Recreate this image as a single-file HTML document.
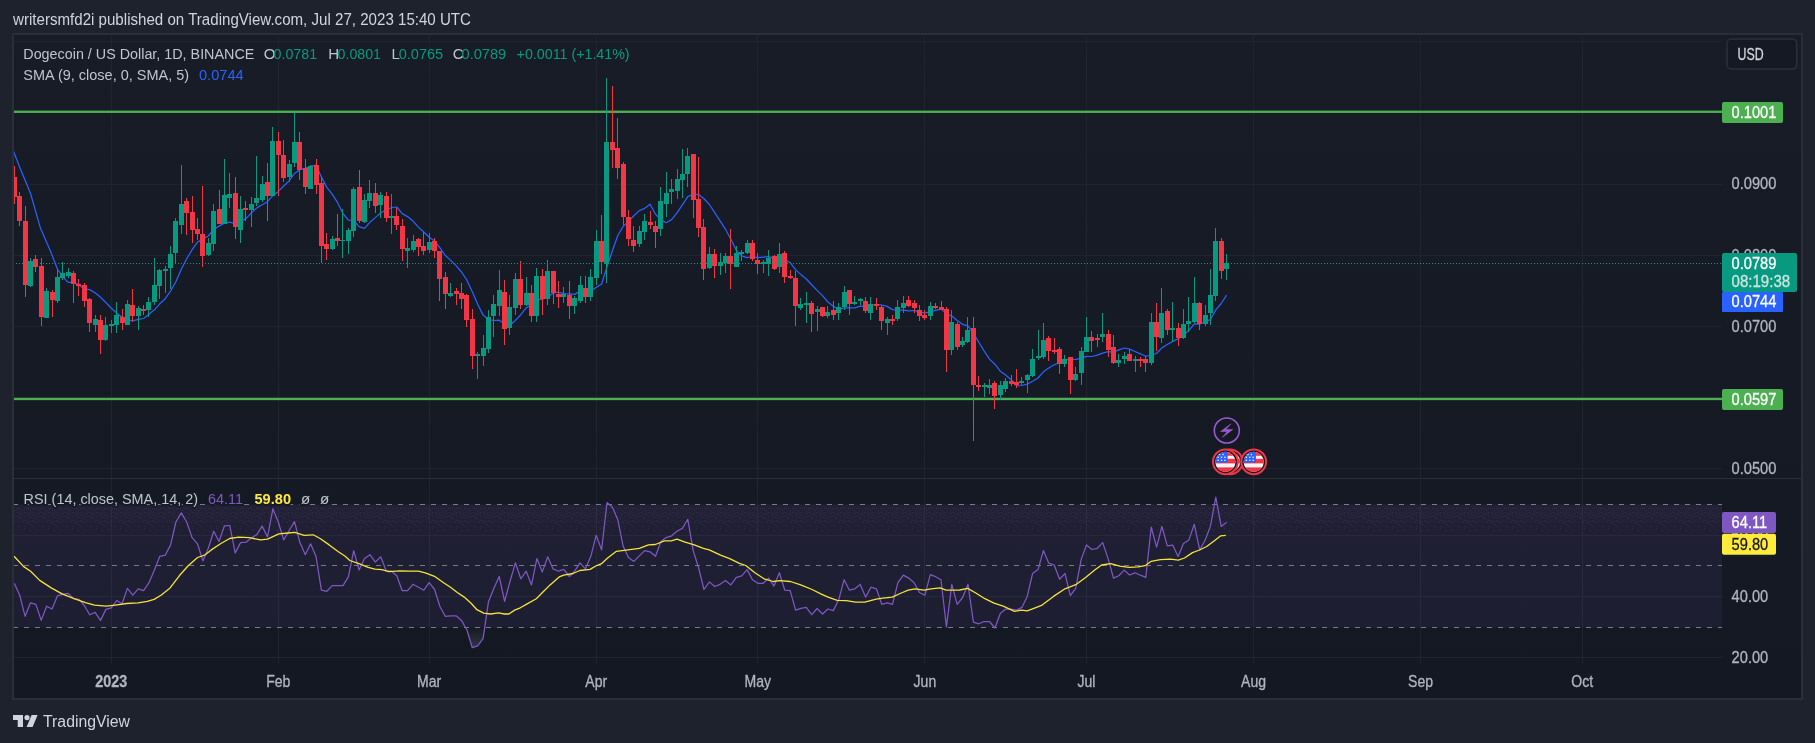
<!DOCTYPE html>
<html><head><meta charset="utf-8"><title>DOGEUSD chart</title>
<style>
html,body{margin:0;padding:0;background:#1e222d;}
body{width:1815px;height:743px;overflow:hidden;position:relative;font-family:"Liberation Sans",sans-serif;}
svg{position:absolute;left:0;top:0;will-change:transform;}
text{font-family:"Liberation Sans",sans-serif;}
</style></head><body>
<svg width="1815" height="743" viewBox="0 0 1815 743">
<defs>
<linearGradient id="bg" x1="0" y1="0" x2="0" y2="1"><stop offset="0" stop-color="#181c27"/><stop offset="1" stop-color="#141823"/></linearGradient>
<linearGradient id="band" x1="0" y1="0" x2="0" y2="1"><stop offset="0" stop-color="#7e57c2" stop-opacity="0.125"/><stop offset="0.25" stop-color="#7e57c2" stop-opacity="0.1"/><stop offset="1" stop-color="#7e57c2" stop-opacity="0.092"/></linearGradient>
<clipPath id="flagclip"><circle cx="0" cy="0" r="10.1"/></clipPath>
<linearGradient id="os" gradientUnits="userSpaceOnUse" x1="0" y1="627" x2="0" y2="652"><stop offset="0" stop-color="#8a8d98" stop-opacity="0"/><stop offset="1" stop-color="#8a8d98" stop-opacity="0.3"/></linearGradient>
<linearGradient id="ob" gradientUnits="userSpaceOnUse" x1="0" y1="505" x2="0" y2="485"><stop offset="0" stop-color="#8a8d98" stop-opacity="0"/><stop offset="1" stop-color="#8a8d98" stop-opacity="0.3"/></linearGradient>
<clipPath id="osclip"><rect x="14" y="628" width="1708" height="36"/></clipPath>
<clipPath id="obclip"><rect x="14" y="479" width="1708" height="25.5"/></clipPath>
<pattern id="dith" patternUnits="userSpaceOnUse" x="4" y="500" width="24" height="40"><g fill="#8fa39a" fill-opacity="0.13"><rect x="4" y="8" width="1" height="1"/><rect x="6" y="8" width="1" height="1"/><rect x="8" y="8" width="1" height="1"/><rect x="12" y="8" width="1" height="1"/><rect x="14" y="8" width="1" height="1"/><rect x="16" y="8" width="1" height="1"/><rect x="20" y="8" width="1" height="1"/><rect x="22" y="8" width="1" height="1"/><rect x="0" y="8" width="1" height="1"/><rect x="2" y="10" width="1" height="1"/><rect x="10" y="10" width="1" height="1"/><rect x="18" y="10" width="1" height="1"/><rect x="5" y="12" width="1" height="1"/><rect x="13" y="12" width="1" height="1"/><rect x="20" y="12" width="1" height="1"/><rect x="23" y="12" width="1" height="1"/><rect x="2" y="13" width="1" height="1"/><rect x="10" y="13" width="1" height="1"/><rect x="17" y="13" width="1" height="1"/><rect x="0" y="14" width="1" height="1"/><rect x="7" y="14" width="1" height="1"/><rect x="16" y="14" width="1" height="1"/><rect x="4" y="15" width="1" height="1"/><rect x="3" y="16" width="1" height="1"/><rect x="10" y="16" width="1" height="1"/><rect x="13" y="16" width="1" height="1"/><rect x="20" y="16" width="1" height="1"/><rect x="1" y="17" width="1" height="1"/><rect x="7" y="17" width="1" height="1"/><rect x="15" y="17" width="1" height="1"/><rect x="16" y="18" width="1" height="1"/><rect x="4" y="20" width="1" height="1"/><rect x="21" y="20" width="1" height="1"/><rect x="2" y="21" width="1" height="1"/><rect x="6" y="21" width="1" height="1"/><rect x="10" y="21" width="1" height="1"/><rect x="14" y="21" width="1" height="1"/><rect x="18" y="21" width="1" height="1"/><rect x="23" y="21" width="1" height="1"/><rect x="0" y="22" width="1" height="1"/><rect x="7" y="22" width="1" height="1"/><rect x="19" y="22" width="1" height="1"/><rect x="2" y="24" width="1" height="1"/><rect x="5" y="26" width="1" height="1"/><rect x="14" y="26" width="1" height="1"/><rect x="20" y="26" width="1" height="1"/><rect x="20" y="28" width="1" height="1"/><rect x="8" y="29" width="1" height="1"/><rect x="9" y="30" width="1" height="1"/><rect x="1" y="30" width="1" height="1"/></g></pattern>
<clipPath id="plot"><rect x="14" y="35" width="1708" height="629"/></clipPath>
</defs>

<rect x="13" y="34" width="1789" height="665" fill="url(#bg)" stroke="#2a2e39" stroke-width="2"/>
<line x1="111.5" y1="35" x2="111.5" y2="663.5" stroke="#20242f" stroke-width="1"/>
<line x1="278.5" y1="35" x2="278.5" y2="663.5" stroke="#20242f" stroke-width="1"/>
<line x1="429.5" y1="35" x2="429.5" y2="663.5" stroke="#20242f" stroke-width="1"/>
<line x1="596.5" y1="35" x2="596.5" y2="663.5" stroke="#20242f" stroke-width="1"/>
<line x1="757.5" y1="35" x2="757.5" y2="663.5" stroke="#20242f" stroke-width="1"/>
<line x1="924.5" y1="35" x2="924.5" y2="663.5" stroke="#20242f" stroke-width="1"/>
<line x1="1086.5" y1="35" x2="1086.5" y2="663.5" stroke="#20242f" stroke-width="1"/>
<line x1="1253.5" y1="35" x2="1253.5" y2="663.5" stroke="#20242f" stroke-width="1"/>
<line x1="1420.5" y1="35" x2="1420.5" y2="663.5" stroke="#20242f" stroke-width="1"/>
<line x1="1582.5" y1="35" x2="1582.5" y2="663.5" stroke="#20242f" stroke-width="1"/>
<line x1="14" y1="41.5" x2="1722" y2="41.5" stroke="#20242f" stroke-width="1"/>
<line x1="14" y1="112.5" x2="1722" y2="112.5" stroke="#20242f" stroke-width="1"/>
<line x1="14" y1="184.5" x2="1722" y2="184.5" stroke="#20242f" stroke-width="1"/>
<line x1="14" y1="255.5" x2="1722" y2="255.5" stroke="#20242f" stroke-width="1"/>
<line x1="14" y1="326.5" x2="1722" y2="326.5" stroke="#20242f" stroke-width="1"/>
<line x1="14" y1="397.5" x2="1722" y2="397.5" stroke="#20242f" stroke-width="1"/>
<line x1="14" y1="468.5" x2="1722" y2="468.5" stroke="#20242f" stroke-width="1"/>
<line x1="14" y1="535.5" x2="1722" y2="535.5" stroke="#20242f" stroke-width="1"/>
<line x1="14" y1="596.5" x2="1722" y2="596.5" stroke="#20242f" stroke-width="1"/>
<line x1="14" y1="657.5" x2="1722" y2="657.5" stroke="#20242f" stroke-width="1"/>
<line x1="14" y1="478.5" x2="1801" y2="478.5" stroke="#2a2e39" stroke-width="1"/>
<rect x="14" y="504.5" width="1708" height="123" fill="url(#band)"/>
<rect x="14" y="505" width="1708" height="30" fill="url(#dith)"/>
<line x1="14" y1="504.5" x2="1722" y2="504.5" stroke="#787b86" stroke-width="1" stroke-dasharray="5 6" stroke-dashoffset="1"/>
<line x1="14" y1="565.5" x2="1722" y2="565.5" stroke="#787b86" stroke-width="1" stroke-dasharray="5 6" stroke-dashoffset="1"/>
<line x1="14" y1="627.5" x2="1722" y2="627.5" stroke="#787b86" stroke-width="1" stroke-dasharray="5 6" stroke-dashoffset="1"/>
<rect x="14" y="110.6" width="1708" height="2.35" fill="#4caf50"/>
<rect x="14" y="397.8" width="1708" height="2.35" fill="#4caf50"/>
<g clip-path="url(#plot)">
<path d="M13.0,150.0 L20.1,168.2 L30.2,192.4 L40.3,227.7 L50.4,250.9 L57.4,269.0 L62.8,276.7 L68.2,282.4 L73.6,282.3 L79.0,285.1 L84.3,288.9 L89.7,289.6 L95.1,292.7 L100.5,297.2 L105.9,302.5 L111.3,308.2 L116.7,313.0 L122.1,317.3 L127.4,319.3 L132.8,321.0 L138.2,319.4 L143.6,318.5 L149.0,314.3 L154.4,309.8 L159.8,303.8 L165.2,298.7 L170.6,291.0 L175.9,281.7 L181.3,269.3 L186.7,258.7 L192.1,249.7 L197.5,242.2 L202.9,238.9 L208.3,236.0 L213.7,229.5 L219.0,226.1 L224.4,223.3 L229.8,222.1 L235.2,223.7 L240.6,221.4 L246.0,218.6 L251.4,212.9 L256.8,207.9 L262.1,204.8 L267.5,201.7 L272.9,195.7 L278.3,191.4 L283.7,186.0 L289.1,181.0 L294.5,173.4 L299.9,169.7 L305.3,168.4 L310.6,166.4 L316.0,165.2 L321.4,176.9 L326.8,187.4 L332.2,194.1 L337.6,202.7 L343.0,213.5 L348.4,220.2 L353.7,220.4 L359.1,226.6 L364.5,228.3 L369.9,222.3 L375.3,217.6 L380.7,212.7 L386.1,210.2 L391.5,207.5 L396.8,207.0 L402.2,213.6 L407.6,216.6 L413.0,221.1 L418.4,227.1 L423.8,232.0 L429.2,237.2 L434.6,240.9 L440.0,247.9 L445.3,255.5 L450.7,260.4 L456.1,265.6 L461.5,272.0 L466.9,280.2 L472.3,291.8 L477.7,304.3 L483.1,315.1 L488.4,319.4 L493.8,320.5 L499.2,320.2 L504.6,324.0 L510.0,325.0 L515.4,320.4 L520.8,314.7 L526.2,307.9 L531.5,304.4 L536.9,299.8 L542.3,299.2 L547.7,297.1 L553.1,293.2 L558.5,292.0 L563.9,293.7 L569.3,293.8 L574.7,294.4 L580.0,291.0 L585.4,293.3 L590.8,290.9 L596.2,287.5 L601.6,284.0 L607.0,266.8 L612.4,250.8 L617.8,235.5 L623.1,226.5 L628.5,221.4 L633.9,215.7 L639.3,210.6 L644.7,208.3 L650.1,204.2 L655.5,214.2 L660.9,219.9 L666.2,222.7 L671.6,219.6 L677.0,212.9 L682.4,204.9 L687.8,196.6 L693.2,194.2 L698.6,194.6 L704.0,198.7 L709.4,204.5 L714.7,212.7 L720.1,220.8 L725.5,229.3 L730.9,239.3 L736.3,250.1 L741.7,255.9 L747.1,257.6 L752.5,256.5 L757.8,257.6 L763.2,257.2 L768.6,256.7 L774.0,258.2 L779.4,257.1 L784.8,259.7 L790.2,262.6 L795.6,269.6 L800.9,274.6 L806.3,279.0 L811.7,284.7 L817.1,290.4 L822.5,295.6 L827.9,302.0 L833.3,306.3 L838.7,309.5 L844.1,307.9 L849.4,307.9 L854.8,307.9 L860.2,306.2 L865.6,306.4 L871.0,305.1 L876.4,304.4 L881.8,305.0 L887.2,306.4 L892.5,309.6 L897.9,309.9 L903.3,310.1 L908.7,310.9 L914.1,310.5 L919.5,311.9 L924.9,313.2 L930.3,311.6 L935.6,310.3 L941.0,309.1 L946.4,313.9 L951.8,316.0 L957.2,320.6 L962.6,324.3 L968.0,325.8 L973.4,333.2 L978.8,342.2 L984.1,350.8 L989.5,359.1 L994.9,364.2 L1000.3,371.2 L1005.7,375.0 L1011.1,379.7 L1016.5,385.9 L1021.9,385.5 L1027.2,384.1 L1032.6,381.3 L1038.0,378.0 L1043.4,371.8 L1048.8,368.0 L1054.2,364.8 L1059.6,362.5 L1065.0,359.6 L1070.3,359.5 L1075.7,359.3 L1081.1,358.4 L1086.5,356.3 L1091.9,356.5 L1097.3,355.2 L1102.7,353.2 L1108.1,351.7 L1113.5,352.1 L1118.8,349.9 L1124.2,348.0 L1129.6,349.1 L1135.0,351.5 L1140.4,353.8 L1145.8,356.3 L1151.2,355.0 L1156.6,353.5 L1161.9,347.9 L1167.3,344.5 L1172.7,341.4 L1178.1,338.9 L1183.5,335.0 L1188.9,330.5 L1194.3,323.8 L1199.7,324.1 L1205.0,321.7 L1210.4,319.7 L1215.8,309.9 L1221.2,303.5 L1226.6,295.2" fill="none" stroke="#2962ff" stroke-width="1.25" stroke-linejoin="round"/>
<rect x="14" y="166" width="1" height="38" fill="#f23645"/><rect x="12" y="177" width="5" height="20" fill="#f23645"/>
<rect x="19" y="192" width="1" height="34" fill="#f23645"/><rect x="17" y="196" width="5" height="25" fill="#f23645"/>
<rect x="25" y="206" width="1" height="91" fill="#f23645"/><rect x="23" y="221" width="5" height="64" fill="#f23645"/>
<rect x="30" y="258" width="1" height="29" fill="#089981"/><rect x="28" y="261" width="5" height="25" fill="#089981"/>
<rect x="35" y="255" width="1" height="17" fill="#f23645"/><rect x="33" y="259" width="5" height="8" fill="#f23645"/>
<rect x="41" y="258" width="1" height="68" fill="#f23645"/><rect x="39" y="266" width="5" height="51" fill="#f23645"/>
<rect x="46" y="288" width="1" height="30" fill="#089981"/><rect x="44" y="291" width="5" height="27" fill="#089981"/>
<rect x="52" y="290" width="1" height="27" fill="#f23645"/><rect x="50" y="292" width="5" height="8" fill="#f23645"/>
<rect x="57" y="269" width="1" height="34" fill="#089981"/><rect x="55" y="277" width="5" height="24" fill="#089981"/>
<rect x="62" y="262" width="1" height="18" fill="#089981"/><rect x="60" y="273" width="5" height="5" fill="#089981"/>
<rect x="68" y="268" width="1" height="10" fill="#089981"/><rect x="66" y="272" width="5" height="4" fill="#089981"/>
<rect x="73" y="271" width="1" height="32" fill="#f23645"/><rect x="71" y="273" width="5" height="11" fill="#f23645"/>
<rect x="78" y="279" width="1" height="17" fill="#f23645"/><rect x="76" y="284" width="5" height="2" fill="#f23645"/>
<rect x="84" y="283" width="1" height="24" fill="#f23645"/><rect x="82" y="285" width="5" height="16" fill="#f23645"/>
<rect x="89" y="298" width="1" height="34" fill="#f23645"/><rect x="87" y="299" width="5" height="24" fill="#f23645"/>
<rect x="95" y="315" width="1" height="17" fill="#089981"/><rect x="93" y="319" width="5" height="6" fill="#089981"/>
<rect x="100" y="315" width="1" height="39" fill="#f23645"/><rect x="98" y="320" width="5" height="20" fill="#f23645"/>
<rect x="105" y="317" width="1" height="24" fill="#089981"/><rect x="103" y="325" width="5" height="15" fill="#089981"/>
<rect x="111" y="320" width="1" height="13" fill="#089981"/><rect x="109" y="324" width="5" height="2" fill="#089981"/>
<rect x="116" y="302" width="1" height="31" fill="#089981"/><rect x="114" y="315" width="5" height="10" fill="#089981"/>
<rect x="122" y="309" width="1" height="21" fill="#f23645"/><rect x="120" y="317" width="5" height="6" fill="#f23645"/>
<rect x="127" y="300" width="1" height="25" fill="#089981"/><rect x="125" y="304" width="5" height="21" fill="#089981"/>
<rect x="132" y="289" width="1" height="33" fill="#f23645"/><rect x="130" y="305" width="5" height="11" fill="#f23645"/>
<rect x="138" y="306" width="1" height="24" fill="#089981"/><rect x="136" y="308" width="5" height="8" fill="#089981"/>
<rect x="143" y="305" width="1" height="10" fill="#f23645"/><rect x="141" y="309" width="5" height="2" fill="#f23645"/>
<rect x="148" y="297" width="1" height="20" fill="#089981"/><rect x="146" y="302" width="5" height="8" fill="#089981"/>
<rect x="154" y="258" width="1" height="47" fill="#089981"/><rect x="152" y="285" width="5" height="17" fill="#089981"/>
<rect x="159" y="269" width="1" height="30" fill="#089981"/><rect x="157" y="270" width="5" height="16" fill="#089981"/>
<rect x="165" y="266" width="1" height="27" fill="#089981"/><rect x="163" y="269" width="5" height="2" fill="#089981"/>
<rect x="170" y="246" width="1" height="43" fill="#089981"/><rect x="168" y="254" width="5" height="14" fill="#089981"/>
<rect x="175" y="218" width="1" height="46" fill="#089981"/><rect x="173" y="221" width="5" height="32" fill="#089981"/>
<rect x="181" y="165" width="1" height="69" fill="#089981"/><rect x="179" y="204" width="5" height="21" fill="#089981"/>
<rect x="186" y="198" width="1" height="37" fill="#f23645"/><rect x="184" y="201" width="5" height="12" fill="#f23645"/>
<rect x="192" y="196" width="1" height="47" fill="#f23645"/><rect x="190" y="212" width="5" height="18" fill="#f23645"/>
<rect x="197" y="218" width="1" height="22" fill="#f23645"/><rect x="195" y="229" width="5" height="5" fill="#f23645"/>
<rect x="202" y="186" width="1" height="81" fill="#f23645"/><rect x="200" y="234" width="5" height="22" fill="#f23645"/>
<rect x="208" y="238" width="1" height="18" fill="#089981"/><rect x="206" y="243" width="5" height="12" fill="#089981"/>
<rect x="213" y="204" width="1" height="47" fill="#089981"/><rect x="211" y="211" width="5" height="33" fill="#089981"/>
<rect x="219" y="190" width="1" height="34" fill="#f23645"/><rect x="217" y="209" width="5" height="15" fill="#f23645"/>
<rect x="224" y="159" width="1" height="65" fill="#089981"/><rect x="222" y="195" width="5" height="29" fill="#089981"/>
<rect x="229" y="173" width="1" height="35" fill="#089981"/><rect x="227" y="194" width="5" height="4" fill="#089981"/>
<rect x="235" y="177" width="1" height="62" fill="#f23645"/><rect x="233" y="193" width="5" height="34" fill="#f23645"/>
<rect x="240" y="196" width="1" height="47" fill="#089981"/><rect x="238" y="209" width="5" height="21" fill="#089981"/>
<rect x="245" y="201" width="1" height="20" fill="#f23645"/><rect x="243" y="208" width="5" height="2" fill="#f23645"/>
<rect x="251" y="197" width="1" height="30" fill="#089981"/><rect x="249" y="204" width="5" height="6" fill="#089981"/>
<rect x="256" y="156" width="1" height="50" fill="#089981"/><rect x="254" y="198" width="5" height="5" fill="#089981"/>
<rect x="262" y="176" width="1" height="26" fill="#089981"/><rect x="260" y="184" width="5" height="16" fill="#089981"/>
<rect x="267" y="163" width="1" height="58" fill="#f23645"/><rect x="265" y="182" width="5" height="14" fill="#f23645"/>
<rect x="272" y="127" width="1" height="69" fill="#089981"/><rect x="270" y="141" width="5" height="55" fill="#089981"/>
<rect x="278" y="132" width="1" height="64" fill="#f23645"/><rect x="276" y="141" width="5" height="14" fill="#f23645"/>
<rect x="283" y="140" width="1" height="42" fill="#f23645"/><rect x="281" y="155" width="5" height="23" fill="#f23645"/>
<rect x="289" y="160" width="1" height="22" fill="#089981"/><rect x="287" y="164" width="5" height="13" fill="#089981"/>
<rect x="294" y="113" width="1" height="54" fill="#089981"/><rect x="292" y="142" width="5" height="21" fill="#089981"/>
<rect x="299" y="132" width="1" height="48" fill="#f23645"/><rect x="297" y="142" width="5" height="28" fill="#f23645"/>
<rect x="305" y="159" width="1" height="35" fill="#f23645"/><rect x="303" y="168" width="5" height="19" fill="#f23645"/>
<rect x="310" y="165" width="1" height="24" fill="#089981"/><rect x="308" y="166" width="5" height="23" fill="#089981"/>
<rect x="316" y="159" width="1" height="35" fill="#f23645"/><rect x="314" y="165" width="5" height="20" fill="#f23645"/>
<rect x="321" y="177" width="1" height="86" fill="#f23645"/><rect x="319" y="183" width="5" height="63" fill="#f23645"/>
<rect x="326" y="233" width="1" height="27" fill="#f23645"/><rect x="324" y="244" width="5" height="5" fill="#f23645"/>
<rect x="332" y="236" width="1" height="14" fill="#089981"/><rect x="330" y="239" width="5" height="10" fill="#089981"/>
<rect x="337" y="214" width="1" height="32" fill="#f23645"/><rect x="335" y="238" width="5" height="3" fill="#f23645"/>
<rect x="342" y="209" width="1" height="49" fill="#089981"/><rect x="340" y="240" width="5" height="1" fill="#089981"/>
<rect x="348" y="228" width="1" height="26" fill="#089981"/><rect x="346" y="230" width="5" height="11" fill="#089981"/>
<rect x="353" y="187" width="1" height="50" fill="#089981"/><rect x="351" y="189" width="5" height="42" fill="#089981"/>
<rect x="359" y="170" width="1" height="53" fill="#f23645"/><rect x="357" y="187" width="5" height="34" fill="#f23645"/>
<rect x="364" y="194" width="1" height="29" fill="#089981"/><rect x="362" y="200" width="5" height="22" fill="#089981"/>
<rect x="369" y="180" width="1" height="28" fill="#089981"/><rect x="367" y="193" width="5" height="8" fill="#089981"/>
<rect x="375" y="183" width="1" height="30" fill="#f23645"/><rect x="373" y="193" width="5" height="13" fill="#f23645"/>
<rect x="380" y="192" width="1" height="26" fill="#089981"/><rect x="378" y="195" width="5" height="10" fill="#089981"/>
<rect x="386" y="192" width="1" height="30" fill="#f23645"/><rect x="384" y="196" width="5" height="22" fill="#f23645"/>
<rect x="391" y="194" width="1" height="40" fill="#089981"/><rect x="389" y="216" width="5" height="2" fill="#089981"/>
<rect x="396" y="208" width="1" height="22" fill="#f23645"/><rect x="394" y="216" width="5" height="9" fill="#f23645"/>
<rect x="402" y="219" width="1" height="42" fill="#f23645"/><rect x="400" y="226" width="5" height="23" fill="#f23645"/>
<rect x="407" y="238" width="1" height="30" fill="#089981"/><rect x="405" y="248" width="5" height="3" fill="#089981"/>
<rect x="413" y="235" width="1" height="17" fill="#089981"/><rect x="411" y="241" width="5" height="9" fill="#089981"/>
<rect x="418" y="238" width="1" height="18" fill="#f23645"/><rect x="416" y="239" width="5" height="8" fill="#f23645"/>
<rect x="423" y="232" width="1" height="23" fill="#f23645"/><rect x="421" y="246" width="5" height="5" fill="#f23645"/>
<rect x="429" y="233" width="1" height="20" fill="#089981"/><rect x="427" y="242" width="5" height="8" fill="#089981"/>
<rect x="434" y="238" width="1" height="20" fill="#f23645"/><rect x="432" y="241" width="5" height="10" fill="#f23645"/>
<rect x="439" y="251" width="1" height="50" fill="#f23645"/><rect x="437" y="251" width="5" height="28" fill="#f23645"/>
<rect x="445" y="272" width="1" height="37" fill="#f23645"/><rect x="443" y="277" width="5" height="17" fill="#f23645"/>
<rect x="450" y="283" width="1" height="14" fill="#089981"/><rect x="448" y="293" width="5" height="3" fill="#089981"/>
<rect x="456" y="288" width="1" height="17" fill="#f23645"/><rect x="454" y="291" width="5" height="3" fill="#f23645"/>
<rect x="461" y="283" width="1" height="26" fill="#f23645"/><rect x="459" y="293" width="5" height="6" fill="#f23645"/>
<rect x="466" y="294" width="1" height="33" fill="#f23645"/><rect x="464" y="295" width="5" height="25" fill="#f23645"/>
<rect x="472" y="309" width="1" height="60" fill="#f23645"/><rect x="470" y="319" width="5" height="37" fill="#f23645"/>
<rect x="477" y="352" width="1" height="27" fill="#089981"/><rect x="475" y="354" width="5" height="2" fill="#089981"/>
<rect x="483" y="335" width="1" height="31" fill="#089981"/><rect x="481" y="348" width="5" height="8" fill="#089981"/>
<rect x="488" y="310" width="1" height="43" fill="#089981"/><rect x="486" y="317" width="5" height="32" fill="#089981"/>
<rect x="493" y="295" width="1" height="42" fill="#089981"/><rect x="491" y="304" width="5" height="12" fill="#089981"/>
<rect x="499" y="270" width="1" height="46" fill="#089981"/><rect x="497" y="290" width="5" height="16" fill="#089981"/>
<rect x="504" y="280" width="1" height="65" fill="#f23645"/><rect x="502" y="292" width="5" height="37" fill="#f23645"/>
<rect x="509" y="295" width="1" height="40" fill="#089981"/><rect x="507" y="307" width="5" height="21" fill="#089981"/>
<rect x="515" y="273" width="1" height="42" fill="#089981"/><rect x="513" y="279" width="5" height="29" fill="#089981"/>
<rect x="520" y="261" width="1" height="48" fill="#f23645"/><rect x="518" y="279" width="5" height="26" fill="#f23645"/>
<rect x="526" y="277" width="1" height="29" fill="#089981"/><rect x="524" y="293" width="5" height="12" fill="#089981"/>
<rect x="531" y="285" width="1" height="37" fill="#f23645"/><rect x="529" y="293" width="5" height="23" fill="#f23645"/>
<rect x="536" y="268" width="1" height="54" fill="#089981"/><rect x="534" y="276" width="5" height="40" fill="#089981"/>
<rect x="542" y="269" width="1" height="46" fill="#f23645"/><rect x="540" y="276" width="5" height="23" fill="#f23645"/>
<rect x="547" y="260" width="1" height="45" fill="#089981"/><rect x="545" y="271" width="5" height="28" fill="#089981"/>
<rect x="553" y="271" width="1" height="33" fill="#f23645"/><rect x="551" y="271" width="5" height="22" fill="#f23645"/>
<rect x="558" y="281" width="1" height="27" fill="#f23645"/><rect x="556" y="294" width="5" height="3" fill="#f23645"/>
<rect x="563" y="287" width="1" height="16" fill="#089981"/><rect x="561" y="294" width="5" height="3" fill="#089981"/>
<rect x="569" y="281" width="1" height="38" fill="#f23645"/><rect x="567" y="295" width="5" height="11" fill="#f23645"/>
<rect x="574" y="296" width="1" height="18" fill="#089981"/><rect x="572" y="298" width="5" height="8" fill="#089981"/>
<rect x="580" y="276" width="1" height="27" fill="#089981"/><rect x="578" y="285" width="5" height="16" fill="#089981"/>
<rect x="585" y="276" width="1" height="27" fill="#f23645"/><rect x="583" y="288" width="5" height="9" fill="#f23645"/>
<rect x="590" y="269" width="1" height="32" fill="#089981"/><rect x="588" y="277" width="5" height="20" fill="#089981"/>
<rect x="596" y="230" width="1" height="55" fill="#089981"/><rect x="594" y="241" width="5" height="37" fill="#089981"/>
<rect x="601" y="215" width="1" height="59" fill="#f23645"/><rect x="599" y="241" width="5" height="21" fill="#f23645"/>
<rect x="606" y="78" width="1" height="205" fill="#089981"/><rect x="604" y="142" width="5" height="122" fill="#089981"/>
<rect x="612" y="86" width="1" height="82" fill="#f23645"/><rect x="610" y="142" width="5" height="8" fill="#f23645"/>
<rect x="617" y="118" width="1" height="61" fill="#f23645"/><rect x="615" y="148" width="5" height="20" fill="#f23645"/>
<rect x="623" y="162" width="1" height="63" fill="#f23645"/><rect x="621" y="164" width="5" height="53" fill="#f23645"/>
<rect x="628" y="210" width="1" height="36" fill="#f23645"/><rect x="626" y="217" width="5" height="22" fill="#f23645"/>
<rect x="633" y="226" width="1" height="26" fill="#f23645"/><rect x="631" y="240" width="5" height="6" fill="#f23645"/>
<rect x="639" y="226" width="1" height="21" fill="#089981"/><rect x="637" y="231" width="5" height="13" fill="#089981"/>
<rect x="644" y="214" width="1" height="26" fill="#089981"/><rect x="642" y="221" width="5" height="11" fill="#089981"/>
<rect x="650" y="211" width="1" height="18" fill="#f23645"/><rect x="648" y="222" width="5" height="3" fill="#f23645"/>
<rect x="655" y="221" width="1" height="27" fill="#f23645"/><rect x="653" y="226" width="5" height="6" fill="#f23645"/>
<rect x="660" y="187" width="1" height="49" fill="#089981"/><rect x="658" y="201" width="5" height="28" fill="#089981"/>
<rect x="666" y="172" width="1" height="45" fill="#089981"/><rect x="664" y="193" width="5" height="11" fill="#089981"/>
<rect x="671" y="179" width="1" height="25" fill="#089981"/><rect x="669" y="189" width="5" height="3" fill="#089981"/>
<rect x="677" y="169" width="1" height="30" fill="#089981"/><rect x="675" y="179" width="5" height="12" fill="#089981"/>
<rect x="682" y="149" width="1" height="49" fill="#089981"/><rect x="680" y="174" width="5" height="6" fill="#089981"/>
<rect x="687" y="148" width="1" height="39" fill="#089981"/><rect x="685" y="156" width="5" height="18" fill="#089981"/>
<rect x="693" y="154" width="1" height="64" fill="#f23645"/><rect x="691" y="154" width="5" height="46" fill="#f23645"/>
<rect x="698" y="157" width="1" height="80" fill="#f23645"/><rect x="696" y="199" width="5" height="29" fill="#f23645"/>
<rect x="703" y="219" width="1" height="61" fill="#f23645"/><rect x="701" y="227" width="5" height="42" fill="#f23645"/>
<rect x="709" y="247" width="1" height="22" fill="#089981"/><rect x="707" y="254" width="5" height="14" fill="#089981"/>
<rect x="714" y="249" width="1" height="29" fill="#f23645"/><rect x="712" y="254" width="5" height="12" fill="#f23645"/>
<rect x="720" y="253" width="1" height="22" fill="#089981"/><rect x="718" y="262" width="5" height="4" fill="#089981"/>
<rect x="725" y="253" width="1" height="20" fill="#089981"/><rect x="723" y="256" width="5" height="7" fill="#089981"/>
<rect x="730" y="229" width="1" height="60" fill="#f23645"/><rect x="728" y="256" width="5" height="8" fill="#f23645"/>
<rect x="736" y="246" width="1" height="21" fill="#089981"/><rect x="734" y="253" width="5" height="14" fill="#089981"/>
<rect x="741" y="250" width="1" height="11" fill="#089981"/><rect x="739" y="252" width="5" height="2" fill="#089981"/>
<rect x="747" y="240" width="1" height="14" fill="#089981"/><rect x="745" y="243" width="5" height="10" fill="#089981"/>
<rect x="752" y="240" width="1" height="21" fill="#f23645"/><rect x="750" y="243" width="5" height="16" fill="#f23645"/>
<rect x="757" y="253" width="1" height="21" fill="#f23645"/><rect x="755" y="260" width="5" height="4" fill="#f23645"/>
<rect x="763" y="260" width="1" height="13" fill="#089981"/><rect x="761" y="262" width="5" height="2" fill="#089981"/>
<rect x="768" y="250" width="1" height="26" fill="#089981"/><rect x="766" y="258" width="5" height="6" fill="#089981"/>
<rect x="774" y="255" width="1" height="15" fill="#f23645"/><rect x="772" y="256" width="5" height="13" fill="#f23645"/>
<rect x="779" y="243" width="1" height="30" fill="#089981"/><rect x="777" y="254" width="5" height="13" fill="#089981"/>
<rect x="784" y="251" width="1" height="32" fill="#f23645"/><rect x="782" y="253" width="5" height="24" fill="#f23645"/>
<rect x="790" y="270" width="1" height="9" fill="#f23645"/><rect x="788" y="276" width="5" height="2" fill="#f23645"/>
<rect x="795" y="271" width="1" height="55" fill="#f23645"/><rect x="793" y="278" width="5" height="28" fill="#f23645"/>
<rect x="800" y="298" width="1" height="12" fill="#089981"/><rect x="798" y="304" width="5" height="4" fill="#089981"/>
<rect x="806" y="292" width="1" height="31" fill="#089981"/><rect x="804" y="303" width="5" height="2" fill="#089981"/>
<rect x="811" y="301" width="1" height="31" fill="#f23645"/><rect x="809" y="303" width="5" height="11" fill="#f23645"/>
<rect x="817" y="306" width="1" height="25" fill="#089981"/><rect x="815" y="309" width="5" height="3" fill="#089981"/>
<rect x="822" y="307" width="1" height="10" fill="#f23645"/><rect x="820" y="307" width="5" height="9" fill="#f23645"/>
<rect x="827" y="306" width="1" height="12" fill="#089981"/><rect x="825" y="312" width="5" height="4" fill="#089981"/>
<rect x="833" y="301" width="1" height="19" fill="#f23645"/><rect x="831" y="310" width="5" height="5" fill="#f23645"/>
<rect x="838" y="303" width="1" height="17" fill="#089981"/><rect x="836" y="307" width="5" height="6" fill="#089981"/>
<rect x="844" y="286" width="1" height="24" fill="#089981"/><rect x="842" y="292" width="5" height="15" fill="#089981"/>
<rect x="849" y="290" width="1" height="25" fill="#f23645"/><rect x="847" y="290" width="5" height="14" fill="#f23645"/>
<rect x="854" y="296" width="1" height="9" fill="#089981"/><rect x="852" y="302" width="5" height="2" fill="#089981"/>
<rect x="860" y="298" width="1" height="7" fill="#089981"/><rect x="858" y="299" width="5" height="2" fill="#089981"/>
<rect x="865" y="297" width="1" height="16" fill="#f23645"/><rect x="863" y="301" width="5" height="10" fill="#f23645"/>
<rect x="870" y="297" width="1" height="23" fill="#089981"/><rect x="868" y="304" width="5" height="9" fill="#089981"/>
<rect x="876" y="298" width="1" height="12" fill="#f23645"/><rect x="874" y="304" width="5" height="2" fill="#f23645"/>
<rect x="881" y="305" width="1" height="25" fill="#f23645"/><rect x="879" y="307" width="5" height="14" fill="#f23645"/>
<rect x="887" y="317" width="1" height="18" fill="#089981"/><rect x="885" y="319" width="5" height="4" fill="#089981"/>
<rect x="892" y="315" width="1" height="10" fill="#f23645"/><rect x="890" y="319" width="5" height="2" fill="#f23645"/>
<rect x="897" y="300" width="1" height="21" fill="#089981"/><rect x="895" y="307" width="5" height="12" fill="#089981"/>
<rect x="903" y="296" width="1" height="17" fill="#089981"/><rect x="901" y="303" width="5" height="5" fill="#089981"/>
<rect x="908" y="296" width="1" height="11" fill="#f23645"/><rect x="906" y="300" width="5" height="6" fill="#f23645"/>
<rect x="914" y="300" width="1" height="13" fill="#f23645"/><rect x="912" y="303" width="5" height="5" fill="#f23645"/>
<rect x="919" y="305" width="1" height="16" fill="#f23645"/><rect x="917" y="310" width="5" height="6" fill="#f23645"/>
<rect x="924" y="310" width="1" height="10" fill="#f23645"/><rect x="922" y="315" width="5" height="3" fill="#f23645"/>
<rect x="930" y="302" width="1" height="18" fill="#089981"/><rect x="928" y="306" width="5" height="10" fill="#089981"/>
<rect x="935" y="303" width="1" height="6" fill="#f23645"/><rect x="933" y="306" width="5" height="2" fill="#f23645"/>
<rect x="941" y="301" width="1" height="9" fill="#f23645"/><rect x="939" y="307" width="5" height="3" fill="#f23645"/>
<rect x="946" y="307" width="1" height="65" fill="#f23645"/><rect x="944" y="309" width="5" height="41" fill="#f23645"/>
<rect x="951" y="310" width="1" height="45" fill="#089981"/><rect x="949" y="322" width="5" height="28" fill="#089981"/>
<rect x="957" y="322" width="1" height="28" fill="#f23645"/><rect x="955" y="324" width="5" height="23" fill="#f23645"/>
<rect x="962" y="337" width="1" height="10" fill="#089981"/><rect x="960" y="341" width="5" height="4" fill="#089981"/>
<rect x="967" y="317" width="1" height="26" fill="#089981"/><rect x="965" y="330" width="5" height="12" fill="#089981"/>
<rect x="973" y="317" width="1" height="124" fill="#f23645"/><rect x="971" y="328" width="5" height="57" fill="#f23645"/>
<rect x="978" y="376" width="1" height="15" fill="#f23645"/><rect x="976" y="385" width="5" height="2" fill="#f23645"/>
<rect x="984" y="383" width="1" height="14" fill="#089981"/><rect x="982" y="385" width="5" height="2" fill="#089981"/>
<rect x="989" y="379" width="1" height="15" fill="#089981"/><rect x="987" y="385" width="5" height="3" fill="#089981"/>
<rect x="994" y="381" width="1" height="28" fill="#f23645"/><rect x="992" y="383" width="5" height="13" fill="#f23645"/>
<rect x="1000" y="381" width="1" height="19" fill="#089981"/><rect x="998" y="385" width="5" height="10" fill="#089981"/>
<rect x="1005" y="378" width="1" height="14" fill="#089981"/><rect x="1003" y="381" width="5" height="8" fill="#089981"/>
<rect x="1011" y="375" width="1" height="11" fill="#f23645"/><rect x="1009" y="381" width="5" height="3" fill="#f23645"/>
<rect x="1016" y="369" width="1" height="19" fill="#f23645"/><rect x="1014" y="382" width="5" height="3" fill="#f23645"/>
<rect x="1021" y="377" width="1" height="8" fill="#089981"/><rect x="1019" y="381" width="5" height="2" fill="#089981"/>
<rect x="1027" y="374" width="1" height="19" fill="#089981"/><rect x="1025" y="375" width="5" height="5" fill="#089981"/>
<rect x="1032" y="349" width="1" height="28" fill="#089981"/><rect x="1030" y="359" width="5" height="17" fill="#089981"/>
<rect x="1038" y="330" width="1" height="30" fill="#089981"/><rect x="1036" y="356" width="5" height="2" fill="#089981"/>
<rect x="1043" y="323" width="1" height="36" fill="#089981"/><rect x="1041" y="340" width="5" height="17" fill="#089981"/>
<rect x="1048" y="336" width="1" height="25" fill="#f23645"/><rect x="1046" y="338" width="5" height="13" fill="#f23645"/>
<rect x="1054" y="338" width="1" height="16" fill="#f23645"/><rect x="1052" y="350" width="5" height="2" fill="#f23645"/>
<rect x="1059" y="347" width="1" height="27" fill="#f23645"/><rect x="1057" y="349" width="5" height="15" fill="#f23645"/>
<rect x="1064" y="355" width="1" height="12" fill="#089981"/><rect x="1062" y="359" width="5" height="5" fill="#089981"/>
<rect x="1070" y="357" width="1" height="37" fill="#f23645"/><rect x="1068" y="357" width="5" height="23" fill="#f23645"/>
<rect x="1075" y="367" width="1" height="14" fill="#089981"/><rect x="1073" y="374" width="5" height="6" fill="#089981"/>
<rect x="1081" y="347" width="1" height="38" fill="#089981"/><rect x="1079" y="351" width="5" height="22" fill="#089981"/>
<rect x="1086" y="317" width="1" height="35" fill="#089981"/><rect x="1084" y="337" width="5" height="15" fill="#089981"/>
<rect x="1091" y="331" width="1" height="21" fill="#f23645"/><rect x="1089" y="337" width="5" height="4" fill="#f23645"/>
<rect x="1097" y="334" width="1" height="13" fill="#f23645"/><rect x="1095" y="338" width="5" height="2" fill="#f23645"/>
<rect x="1102" y="313" width="1" height="29" fill="#089981"/><rect x="1100" y="334" width="5" height="3" fill="#089981"/>
<rect x="1108" y="330" width="1" height="27" fill="#f23645"/><rect x="1106" y="334" width="5" height="16" fill="#f23645"/>
<rect x="1113" y="335" width="1" height="29" fill="#f23645"/><rect x="1111" y="347" width="5" height="16" fill="#f23645"/>
<rect x="1118" y="354" width="1" height="13" fill="#089981"/><rect x="1116" y="360" width="5" height="3" fill="#089981"/>
<rect x="1124" y="352" width="1" height="12" fill="#089981"/><rect x="1122" y="356" width="5" height="3" fill="#089981"/>
<rect x="1129" y="349" width="1" height="12" fill="#f23645"/><rect x="1127" y="354" width="5" height="7" fill="#f23645"/>
<rect x="1135" y="356" width="1" height="16" fill="#089981"/><rect x="1133" y="359" width="5" height="2" fill="#089981"/>
<rect x="1140" y="357" width="1" height="10" fill="#f23645"/><rect x="1138" y="359" width="5" height="2" fill="#f23645"/>
<rect x="1145" y="356" width="1" height="16" fill="#f23645"/><rect x="1143" y="359" width="5" height="4" fill="#f23645"/>
<rect x="1151" y="313" width="1" height="52" fill="#089981"/><rect x="1149" y="322" width="5" height="41" fill="#089981"/>
<rect x="1156" y="303" width="1" height="48" fill="#f23645"/><rect x="1154" y="322" width="5" height="15" fill="#f23645"/>
<rect x="1161" y="288" width="1" height="55" fill="#089981"/><rect x="1159" y="313" width="5" height="25" fill="#089981"/>
<rect x="1167" y="309" width="1" height="26" fill="#f23645"/><rect x="1165" y="311" width="5" height="19" fill="#f23645"/>
<rect x="1172" y="302" width="1" height="40" fill="#089981"/><rect x="1170" y="328" width="5" height="2" fill="#089981"/>
<rect x="1178" y="323" width="1" height="23" fill="#f23645"/><rect x="1176" y="328" width="5" height="10" fill="#f23645"/>
<rect x="1183" y="309" width="1" height="30" fill="#089981"/><rect x="1181" y="324" width="5" height="14" fill="#089981"/>
<rect x="1188" y="297" width="1" height="35" fill="#089981"/><rect x="1186" y="321" width="5" height="3" fill="#089981"/>
<rect x="1194" y="277" width="1" height="46" fill="#089981"/><rect x="1192" y="303" width="5" height="19" fill="#089981"/>
<rect x="1199" y="302" width="1" height="28" fill="#f23645"/><rect x="1197" y="303" width="5" height="21" fill="#f23645"/>
<rect x="1205" y="305" width="1" height="21" fill="#089981"/><rect x="1203" y="315" width="5" height="9" fill="#089981"/>
<rect x="1210" y="269" width="1" height="56" fill="#089981"/><rect x="1208" y="295" width="5" height="18" fill="#089981"/>
<rect x="1215" y="228" width="1" height="73" fill="#089981"/><rect x="1213" y="241" width="5" height="55" fill="#089981"/>
<rect x="1221" y="238" width="1" height="41" fill="#f23645"/><rect x="1219" y="241" width="5" height="30" fill="#f23645"/>
<rect x="1226" y="254" width="1" height="26" fill="#089981"/><rect x="1224" y="263" width="5" height="6" fill="#089981"/>
<line x1="14" y1="263.5" x2="1722" y2="263.5" stroke="#089981" stroke-width="1" stroke-dasharray="1 2" stroke-dashoffset="1"/>
<path d="M14.3,583.3 L19.7,595.2 L25.1,616.3 L30.5,602.8 L35.9,604.4 L41.2,620.4 L46.6,606.2 L52.0,609.0 L57.4,595.9 L62.8,594.1 L68.2,593.4 L73.6,598.7 L79.0,599.4 L84.3,605.5 L89.7,614.7 L95.1,612.4 L100.5,620.4 L105.9,609.4 L111.3,607.8 L116.7,600.5 L122.1,603.7 L127.4,588.4 L132.8,595.2 L138.2,588.8 L143.6,590.7 L149.0,582.7 L154.4,570.1 L159.8,556.3 L165.2,555.2 L170.6,544.9 L175.9,522.0 L181.3,512.9 L186.7,522.0 L192.1,537.6 L197.5,543.8 L202.9,560.9 L208.3,548.3 L213.7,531.2 L219.0,541.5 L224.4,525.9 L229.8,525.5 L235.2,552.9 L240.6,542.6 L246.0,542.2 L251.4,538.0 L256.8,534.6 L262.1,526.1 L267.5,536.9 L272.9,508.8 L278.3,522.0 L283.7,539.9 L289.1,530.7 L294.5,521.6 L299.9,542.6 L305.3,554.7 L310.6,543.8 L316.0,556.3 L321.4,590.2 L326.8,591.3 L332.2,585.6 L337.6,585.6 L343.0,585.6 L348.4,576.9 L353.7,550.6 L359.1,570.1 L364.5,558.6 L369.9,554.7 L375.3,562.1 L380.7,556.8 L386.1,570.5 L391.5,571.2 L396.8,575.8 L402.2,590.7 L407.6,590.7 L413.0,584.3 L418.4,587.2 L423.8,590.2 L429.2,582.7 L434.6,589.5 L440.0,606.7 L445.3,616.3 L450.7,615.8 L456.1,615.8 L461.5,620.4 L466.9,630.0 L472.3,647.7 L477.7,645.8 L483.1,638.7 L488.4,602.1 L493.8,588.4 L499.2,576.5 L504.6,601.4 L510.0,581.5 L515.4,562.8 L520.8,578.8 L526.2,571.2 L531.5,584.9 L536.9,558.6 L542.3,571.9 L547.7,556.8 L553.1,568.9 L558.5,571.2 L563.9,569.4 L569.3,576.5 L574.7,571.2 L580.0,562.8 L585.4,568.9 L590.8,556.3 L596.2,535.3 L601.6,549.9 L607.0,502.6 L612.4,507.2 L617.8,519.7 L623.1,546.1 L628.5,557.5 L633.9,561.4 L639.3,555.9 L644.7,550.6 L650.1,551.8 L655.5,556.3 L660.9,541.5 L666.2,537.6 L671.6,535.8 L677.0,531.2 L682.4,528.4 L687.8,519.3 L693.2,550.6 L698.6,567.8 L704.0,589.5 L709.4,581.9 L714.7,586.5 L720.1,584.3 L725.5,580.4 L730.9,584.9 L736.3,577.4 L741.7,575.8 L747.1,569.6 L752.5,579.7 L757.8,583.3 L763.2,583.3 L768.6,578.1 L774.0,586.1 L779.4,572.8 L784.8,590.2 L790.2,590.7 L795.6,610.1 L800.9,608.3 L806.3,607.4 L811.7,614.7 L817.1,608.5 L822.5,614.0 L827.9,609.0 L833.3,610.6 L838.7,599.8 L844.1,579.7 L849.4,590.2 L854.8,588.8 L860.2,584.5 L865.6,597.1 L871.0,587.2 L876.4,588.8 L881.8,604.4 L887.2,602.8 L892.5,604.4 L897.9,582.7 L903.3,575.1 L908.7,578.1 L914.1,582.7 L919.5,592.5 L924.9,595.2 L930.3,574.6 L935.6,576.7 L941.0,579.7 L946.4,626.8 L951.8,584.3 L957.2,604.4 L962.6,597.5 L968.0,584.3 L973.4,622.2 L978.8,623.8 L984.1,621.5 L989.5,621.5 L994.9,628.0 L1000.3,613.5 L1005.7,609.0 L1011.1,609.0 L1016.5,610.1 L1021.9,607.4 L1027.2,596.4 L1032.6,573.5 L1038.0,569.6 L1043.4,550.6 L1048.8,563.2 L1054.2,565.0 L1059.6,579.2 L1065.0,573.5 L1070.3,595.7 L1075.7,588.4 L1081.1,559.8 L1086.5,544.9 L1091.9,549.5 L1097.3,548.3 L1102.7,542.6 L1108.1,558.6 L1113.5,578.1 L1118.8,575.8 L1124.2,570.1 L1129.6,575.0 L1135.0,572.8 L1140.4,575.2 L1145.8,577.4 L1151.2,527.2 L1156.6,547.1 L1161.9,526.5 L1167.3,545.8 L1172.7,545.1 L1178.1,556.6 L1183.5,543.5 L1188.9,539.9 L1194.3,524.3 L1199.7,550.0 L1205.0,540.5 L1210.4,526.4 L1215.8,497.1 L1221.2,526.4 L1226.6,522.3 L1226.6,627.5 L14.3,627.5 Z" fill="url(#os)" clip-path="url(#osclip)"/>
<path d="M14.3,583.3 L19.7,595.2 L25.1,616.3 L30.5,602.8 L35.9,604.4 L41.2,620.4 L46.6,606.2 L52.0,609.0 L57.4,595.9 L62.8,594.1 L68.2,593.4 L73.6,598.7 L79.0,599.4 L84.3,605.5 L89.7,614.7 L95.1,612.4 L100.5,620.4 L105.9,609.4 L111.3,607.8 L116.7,600.5 L122.1,603.7 L127.4,588.4 L132.8,595.2 L138.2,588.8 L143.6,590.7 L149.0,582.7 L154.4,570.1 L159.8,556.3 L165.2,555.2 L170.6,544.9 L175.9,522.0 L181.3,512.9 L186.7,522.0 L192.1,537.6 L197.5,543.8 L202.9,560.9 L208.3,548.3 L213.7,531.2 L219.0,541.5 L224.4,525.9 L229.8,525.5 L235.2,552.9 L240.6,542.6 L246.0,542.2 L251.4,538.0 L256.8,534.6 L262.1,526.1 L267.5,536.9 L272.9,508.8 L278.3,522.0 L283.7,539.9 L289.1,530.7 L294.5,521.6 L299.9,542.6 L305.3,554.7 L310.6,543.8 L316.0,556.3 L321.4,590.2 L326.8,591.3 L332.2,585.6 L337.6,585.6 L343.0,585.6 L348.4,576.9 L353.7,550.6 L359.1,570.1 L364.5,558.6 L369.9,554.7 L375.3,562.1 L380.7,556.8 L386.1,570.5 L391.5,571.2 L396.8,575.8 L402.2,590.7 L407.6,590.7 L413.0,584.3 L418.4,587.2 L423.8,590.2 L429.2,582.7 L434.6,589.5 L440.0,606.7 L445.3,616.3 L450.7,615.8 L456.1,615.8 L461.5,620.4 L466.9,630.0 L472.3,647.7 L477.7,645.8 L483.1,638.7 L488.4,602.1 L493.8,588.4 L499.2,576.5 L504.6,601.4 L510.0,581.5 L515.4,562.8 L520.8,578.8 L526.2,571.2 L531.5,584.9 L536.9,558.6 L542.3,571.9 L547.7,556.8 L553.1,568.9 L558.5,571.2 L563.9,569.4 L569.3,576.5 L574.7,571.2 L580.0,562.8 L585.4,568.9 L590.8,556.3 L596.2,535.3 L601.6,549.9 L607.0,502.6 L612.4,507.2 L617.8,519.7 L623.1,546.1 L628.5,557.5 L633.9,561.4 L639.3,555.9 L644.7,550.6 L650.1,551.8 L655.5,556.3 L660.9,541.5 L666.2,537.6 L671.6,535.8 L677.0,531.2 L682.4,528.4 L687.8,519.3 L693.2,550.6 L698.6,567.8 L704.0,589.5 L709.4,581.9 L714.7,586.5 L720.1,584.3 L725.5,580.4 L730.9,584.9 L736.3,577.4 L741.7,575.8 L747.1,569.6 L752.5,579.7 L757.8,583.3 L763.2,583.3 L768.6,578.1 L774.0,586.1 L779.4,572.8 L784.8,590.2 L790.2,590.7 L795.6,610.1 L800.9,608.3 L806.3,607.4 L811.7,614.7 L817.1,608.5 L822.5,614.0 L827.9,609.0 L833.3,610.6 L838.7,599.8 L844.1,579.7 L849.4,590.2 L854.8,588.8 L860.2,584.5 L865.6,597.1 L871.0,587.2 L876.4,588.8 L881.8,604.4 L887.2,602.8 L892.5,604.4 L897.9,582.7 L903.3,575.1 L908.7,578.1 L914.1,582.7 L919.5,592.5 L924.9,595.2 L930.3,574.6 L935.6,576.7 L941.0,579.7 L946.4,626.8 L951.8,584.3 L957.2,604.4 L962.6,597.5 L968.0,584.3 L973.4,622.2 L978.8,623.8 L984.1,621.5 L989.5,621.5 L994.9,628.0 L1000.3,613.5 L1005.7,609.0 L1011.1,609.0 L1016.5,610.1 L1021.9,607.4 L1027.2,596.4 L1032.6,573.5 L1038.0,569.6 L1043.4,550.6 L1048.8,563.2 L1054.2,565.0 L1059.6,579.2 L1065.0,573.5 L1070.3,595.7 L1075.7,588.4 L1081.1,559.8 L1086.5,544.9 L1091.9,549.5 L1097.3,548.3 L1102.7,542.6 L1108.1,558.6 L1113.5,578.1 L1118.8,575.8 L1124.2,570.1 L1129.6,575.0 L1135.0,572.8 L1140.4,575.2 L1145.8,577.4 L1151.2,527.2 L1156.6,547.1 L1161.9,526.5 L1167.3,545.8 L1172.7,545.1 L1178.1,556.6 L1183.5,543.5 L1188.9,539.9 L1194.3,524.3 L1199.7,550.0 L1205.0,540.5 L1210.4,526.4 L1215.8,497.1 L1221.2,526.4 L1226.6,522.3 L1226.6,504.5 L14.3,504.5 Z" fill="url(#ob)" clip-path="url(#obclip)"/>
<path d="M14.3,583.3 L19.7,595.2 L25.1,616.3 L30.5,602.8 L35.9,604.4 L41.2,620.4 L46.6,606.2 L52.0,609.0 L57.4,595.9 L62.8,594.1 L68.2,593.4 L73.6,598.7 L79.0,599.4 L84.3,605.5 L89.7,614.7 L95.1,612.4 L100.5,620.4 L105.9,609.4 L111.3,607.8 L116.7,600.5 L122.1,603.7 L127.4,588.4 L132.8,595.2 L138.2,588.8 L143.6,590.7 L149.0,582.7 L154.4,570.1 L159.8,556.3 L165.2,555.2 L170.6,544.9 L175.9,522.0 L181.3,512.9 L186.7,522.0 L192.1,537.6 L197.5,543.8 L202.9,560.9 L208.3,548.3 L213.7,531.2 L219.0,541.5 L224.4,525.9 L229.8,525.5 L235.2,552.9 L240.6,542.6 L246.0,542.2 L251.4,538.0 L256.8,534.6 L262.1,526.1 L267.5,536.9 L272.9,508.8 L278.3,522.0 L283.7,539.9 L289.1,530.7 L294.5,521.6 L299.9,542.6 L305.3,554.7 L310.6,543.8 L316.0,556.3 L321.4,590.2 L326.8,591.3 L332.2,585.6 L337.6,585.6 L343.0,585.6 L348.4,576.9 L353.7,550.6 L359.1,570.1 L364.5,558.6 L369.9,554.7 L375.3,562.1 L380.7,556.8 L386.1,570.5 L391.5,571.2 L396.8,575.8 L402.2,590.7 L407.6,590.7 L413.0,584.3 L418.4,587.2 L423.8,590.2 L429.2,582.7 L434.6,589.5 L440.0,606.7 L445.3,616.3 L450.7,615.8 L456.1,615.8 L461.5,620.4 L466.9,630.0 L472.3,647.7 L477.7,645.8 L483.1,638.7 L488.4,602.1 L493.8,588.4 L499.2,576.5 L504.6,601.4 L510.0,581.5 L515.4,562.8 L520.8,578.8 L526.2,571.2 L531.5,584.9 L536.9,558.6 L542.3,571.9 L547.7,556.8 L553.1,568.9 L558.5,571.2 L563.9,569.4 L569.3,576.5 L574.7,571.2 L580.0,562.8 L585.4,568.9 L590.8,556.3 L596.2,535.3 L601.6,549.9 L607.0,502.6 L612.4,507.2 L617.8,519.7 L623.1,546.1 L628.5,557.5 L633.9,561.4 L639.3,555.9 L644.7,550.6 L650.1,551.8 L655.5,556.3 L660.9,541.5 L666.2,537.6 L671.6,535.8 L677.0,531.2 L682.4,528.4 L687.8,519.3 L693.2,550.6 L698.6,567.8 L704.0,589.5 L709.4,581.9 L714.7,586.5 L720.1,584.3 L725.5,580.4 L730.9,584.9 L736.3,577.4 L741.7,575.8 L747.1,569.6 L752.5,579.7 L757.8,583.3 L763.2,583.3 L768.6,578.1 L774.0,586.1 L779.4,572.8 L784.8,590.2 L790.2,590.7 L795.6,610.1 L800.9,608.3 L806.3,607.4 L811.7,614.7 L817.1,608.5 L822.5,614.0 L827.9,609.0 L833.3,610.6 L838.7,599.8 L844.1,579.7 L849.4,590.2 L854.8,588.8 L860.2,584.5 L865.6,597.1 L871.0,587.2 L876.4,588.8 L881.8,604.4 L887.2,602.8 L892.5,604.4 L897.9,582.7 L903.3,575.1 L908.7,578.1 L914.1,582.7 L919.5,592.5 L924.9,595.2 L930.3,574.6 L935.6,576.7 L941.0,579.7 L946.4,626.8 L951.8,584.3 L957.2,604.4 L962.6,597.5 L968.0,584.3 L973.4,622.2 L978.8,623.8 L984.1,621.5 L989.5,621.5 L994.9,628.0 L1000.3,613.5 L1005.7,609.0 L1011.1,609.0 L1016.5,610.1 L1021.9,607.4 L1027.2,596.4 L1032.6,573.5 L1038.0,569.6 L1043.4,550.6 L1048.8,563.2 L1054.2,565.0 L1059.6,579.2 L1065.0,573.5 L1070.3,595.7 L1075.7,588.4 L1081.1,559.8 L1086.5,544.9 L1091.9,549.5 L1097.3,548.3 L1102.7,542.6 L1108.1,558.6 L1113.5,578.1 L1118.8,575.8 L1124.2,570.1 L1129.6,575.0 L1135.0,572.8 L1140.4,575.2 L1145.8,577.4 L1151.2,527.2 L1156.6,547.1 L1161.9,526.5 L1167.3,545.8 L1172.7,545.1 L1178.1,556.6 L1183.5,543.5 L1188.9,539.9 L1194.3,524.3 L1199.7,550.0 L1205.0,540.5 L1210.4,526.4 L1215.8,497.1 L1221.2,526.4 L1226.6,522.3" fill="none" stroke="#7e57c2" stroke-width="1.25" stroke-linejoin="round"/>
<path d="M14.1,556.3 L23.7,566.6 L30.6,571.2 L39.7,580.4 L51.2,587.9 L62.6,594.1 L74.1,598.7 L85.5,602.6 L94.6,605.1 L106.1,606.2 L115.2,605.1 L126.7,603.5 L138.1,602.8 L147.3,601.4 L154.1,599.4 L161.0,595.2 L170.1,587.9 L179.3,575.8 L188.4,565.5 L197.6,557.5 L204.5,555.2 L211.3,549.9 L220.5,543.8 L229.6,538.5 L238.8,537.1 L249.2,537.6 L260.6,539.9 L267.5,539.2 L278.9,533.9 L288.0,533.0 L294.9,532.3 L304.1,535.3 L313.2,534.8 L320.1,538.5 L329.2,544.9 L338.4,551.8 L345.2,556.3 L349.8,560.5 L359.0,563.7 L368.1,567.3 L375.0,569.2 L381.8,569.6 L388.7,571.7 L400.1,570.8 L409.3,571.2 L418.4,571.2 L425.3,572.8 L434.5,576.3 L443.6,582.7 L450.5,587.2 L457.3,592.5 L464.2,597.1 L471.1,603.2 L476.9,609.7 L483.7,613.1 L490.6,614.0 L498.6,612.9 L504.3,614.0 L508.9,614.0 L514.6,610.1 L520.3,607.8 L527.2,603.9 L536.3,598.7 L543.2,591.8 L550.1,584.9 L559.2,576.9 L563.8,575.1 L573.0,573.5 L579.8,570.5 L590.1,569.4 L595.8,566.0 L601.5,563.7 L607.3,558.2 L616.4,551.3 L627.9,549.9 L639.3,548.3 L648.5,544.9 L655.3,544.5 L664.5,540.8 L671.3,540.8 L677.0,539.2 L685.1,542.2 L694.2,544.9 L703.4,548.3 L709.2,549.9 L720.6,555.2 L729.7,558.6 L738.9,563.2 L745.8,565.5 L754.9,572.8 L764.1,578.8 L773.2,581.5 L780.1,580.6 L790.4,581.5 L800.7,584.9 L812.1,589.5 L821.3,594.1 L828.1,597.1 L837.3,600.3 L846.4,600.7 L855.6,602.1 L864.7,602.1 L876.2,599.1 L883.0,598.2 L892.2,597.1 L901.3,593.0 L908.2,590.2 L915.1,588.8 L924.2,590.2 L931.1,588.8 L940.3,587.9 L946.0,590.2 L959.7,590.0 L967.7,588.4 L975.8,593.0 L984.9,598.7 L994.1,603.2 L1003.2,606.2 L1014.6,611.3 L1021.5,610.1 L1027.2,610.8 L1035.2,607.8 L1042.1,605.1 L1053.5,596.4 L1065.0,588.8 L1076.4,584.3 L1085.6,577.4 L1094.7,570.1 L1101.6,565.0 L1110.7,563.7 L1119.9,566.2 L1129.0,567.3 L1138.1,566.9 L1145.1,565.7 L1151.2,561.3 L1160.3,559.7 L1170.4,559.1 L1178.4,560.1 L1184.5,558.0 L1192.5,552.6 L1199.6,550.0 L1206.7,546.5 L1214.7,540.5 L1220.8,535.8 L1225.8,535.4" fill="none" stroke="#f5e339" stroke-width="1.3" stroke-linejoin="round"/>
</g>
<g transform="translate(1226.8,430.5)">
<circle r="12.5" fill="#151924" stroke="#9c59d1" stroke-width="1.6"/>
<path d="M4.1,-6.6 L-6.2,1 L0.4,1 L-4.3,6.8 L6,-1.1 L-1,-1.1 Z" fill="#9c59d1" stroke="#9c59d1" stroke-width="0.6" stroke-linejoin="round"/>
</g>
<g transform="translate(1230.1,461.8)">
<circle r="12.4" fill="#151924" stroke="#f23645" stroke-width="2"/>
<g clip-path="url(#flagclip)">
<rect x="-11" y="-11" width="22" height="22" fill="#f5f5f5"/>
<rect x="-11" y="-10.1" width="22" height="4.1" fill="#f23645"/>
<rect x="-11" y="-3" width="22" height="4.6" fill="#f23645"/>
<rect x="-11" y="5.6" width="22" height="5" fill="#f23645"/>
<rect x="-11" y="-11" width="13.2" height="11.8" fill="#2962ff"/>
<g fill="#e8ecff"><rect x="-6.5" y="-8" width="1.4" height="1.4"/><rect x="-3" y="-8" width="1.4" height="1.4"/><rect x="-8" y="-5.2" width="1.4" height="1.4"/><rect x="-4.6" y="-5.2" width="1.4" height="1.4"/><rect x="-1.2" y="-5.2" width="1.4" height="1.4"/><rect x="-8" y="-2.2" width="1.4" height="1.4"/><rect x="-4.6" y="-2.2" width="1.4" height="1.4"/><rect x="-1.2" y="-2.2" width="1.4" height="1.4"/></g>
</g></g>
<g transform="translate(1253.7,461.8)">
<circle r="12.4" fill="#151924" stroke="#f23645" stroke-width="2"/>
<g clip-path="url(#flagclip)">
<rect x="-11" y="-11" width="22" height="22" fill="#f5f5f5"/>
<rect x="-11" y="-10.1" width="22" height="4.1" fill="#f23645"/>
<rect x="-11" y="-3" width="22" height="4.6" fill="#f23645"/>
<rect x="-11" y="5.6" width="22" height="5" fill="#f23645"/>
<rect x="-11" y="-11" width="13.2" height="11.8" fill="#2962ff"/>
<g fill="#e8ecff"><rect x="-6.5" y="-8" width="1.4" height="1.4"/><rect x="-3" y="-8" width="1.4" height="1.4"/><rect x="-8" y="-5.2" width="1.4" height="1.4"/><rect x="-4.6" y="-5.2" width="1.4" height="1.4"/><rect x="-1.2" y="-5.2" width="1.4" height="1.4"/><rect x="-8" y="-2.2" width="1.4" height="1.4"/><rect x="-4.6" y="-2.2" width="1.4" height="1.4"/><rect x="-1.2" y="-2.2" width="1.4" height="1.4"/></g>
</g></g>
<g transform="translate(1225.4,461.8)">
<circle r="12.4" fill="#151924" stroke="#f23645" stroke-width="2"/>
<g clip-path="url(#flagclip)">
<rect x="-11" y="-11" width="22" height="22" fill="#f5f5f5"/>
<rect x="-11" y="-10.1" width="22" height="4.1" fill="#f23645"/>
<rect x="-11" y="-3" width="22" height="4.6" fill="#f23645"/>
<rect x="-11" y="5.6" width="22" height="5" fill="#f23645"/>
<rect x="-11" y="-11" width="13.2" height="11.8" fill="#2962ff"/>
<g fill="#e8ecff"><rect x="-6.5" y="-8" width="1.4" height="1.4"/><rect x="-3" y="-8" width="1.4" height="1.4"/><rect x="-8" y="-5.2" width="1.4" height="1.4"/><rect x="-4.6" y="-5.2" width="1.4" height="1.4"/><rect x="-1.2" y="-5.2" width="1.4" height="1.4"/><rect x="-8" y="-2.2" width="1.4" height="1.4"/><rect x="-4.6" y="-2.2" width="1.4" height="1.4"/><rect x="-1.2" y="-2.2" width="1.4" height="1.4"/></g>
</g></g>
<text transform="translate(1731.6,189.2) scale(0.915,1)" font-size="16" fill="#b2b5be" stroke="#b2b5be" stroke-width="0.3" text-anchor="start">0.0900</text>
<text transform="translate(1731.6,332.1) scale(0.915,1)" font-size="16" fill="#b2b5be" stroke="#b2b5be" stroke-width="0.3" text-anchor="start">0.0700</text>
<text transform="translate(1731.6,474.1) scale(0.915,1)" font-size="16" fill="#b2b5be" stroke="#b2b5be" stroke-width="0.3" text-anchor="start">0.0500</text>
<text transform="translate(1731.6,261.1) scale(0.915,1)" font-size="16" fill="#b2b5be" stroke="#b2b5be" stroke-width="0.3" text-anchor="start">0.0800</text>
<text transform="translate(1731.6,602.1) scale(0.915,1)" font-size="16" fill="#b2b5be" stroke="#b2b5be" stroke-width="0.3" text-anchor="start">40.00</text>
<text transform="translate(1731.6,663.1) scale(0.915,1)" font-size="16" fill="#b2b5be" stroke="#b2b5be" stroke-width="0.3" text-anchor="start">20.00</text>
<text transform="translate(1731.6,541.1) scale(0.915,1)" font-size="16" fill="#b2b5be" stroke="#b2b5be" stroke-width="0.3" text-anchor="start">60.00</text>
<rect x="1722" y="102" width="61" height="21" rx="2" fill="#4caf50"/>
<text transform="translate(1731.6,118) scale(0.915,1)" font-size="16" fill="#fff" stroke="#fff" stroke-width="0.3" text-anchor="start">0.1001</text>
<rect x="1722" y="389" width="61" height="21" rx="2" fill="#4caf50"/>
<text transform="translate(1731.6,405.1) scale(0.915,1)" font-size="16" fill="#fff" stroke="#fff" stroke-width="0.3" text-anchor="start">0.0597</text>
<rect x="1722" y="253" width="75" height="39" rx="2" fill="#089981"/>
<text transform="translate(1731.6,268.9) scale(0.915,1)" font-size="16" fill="#fff" stroke="#fff" stroke-width="0.3" text-anchor="start">0.0789</text>
<text transform="translate(1731.6,286.8) scale(0.94,1)" font-size="16" fill="#c8e6df" stroke="#c8e6df" stroke-width="0.3" text-anchor="start">08:19:38</text>
<rect x="1722" y="292" width="61" height="20" rx="1" fill="#2962ff"/>
<text transform="translate(1731.6,307.4) scale(0.915,1)" font-size="16" fill="#fff" stroke="#fff" stroke-width="0.3" text-anchor="start">0.0744</text>
<rect x="1722" y="512" width="54" height="21" rx="2" fill="#7e57c2"/>
<text transform="translate(1731.6,528) scale(0.915,1)" font-size="16" fill="#fff" stroke="#fff" stroke-width="0.3" text-anchor="start">64.11</text>
<rect x="1722" y="533.7" width="54" height="21" rx="2" fill="#ffeb3b"/>
<text transform="translate(1731.6,549.7) scale(0.915,1)" font-size="16" fill="#1a1a1a" stroke="#1a1a1a" stroke-width="0.3" text-anchor="start">59.80</text>
<rect x="1727" y="39" width="69.7" height="30" rx="4.5" fill="#151924" stroke="#2b2e3d" stroke-width="1.6"/>
<text transform="translate(1737.6,60) scale(0.755,1)" font-size="16.4" fill="#d1d4dc" stroke="#d1d4dc" stroke-width="0.3" text-anchor="start">USD</text>
<text transform="translate(111.3,687.2) scale(0.92,1)" font-size="15.6" fill="#b2b5be" stroke="#b2b5be" stroke-width="0.3" text-anchor="middle" font-weight="bold">2023</text>
<text transform="translate(278.3,687.2) scale(0.9,1)" font-size="15.6" fill="#b2b5be" stroke="#b2b5be" stroke-width="0.3" text-anchor="middle">Feb</text>
<text transform="translate(429.2,687.2) scale(0.9,1)" font-size="15.6" fill="#b2b5be" stroke="#b2b5be" stroke-width="0.3" text-anchor="middle">Mar</text>
<text transform="translate(596.2,687.2) scale(0.9,1)" font-size="15.6" fill="#b2b5be" stroke="#b2b5be" stroke-width="0.3" text-anchor="middle">Apr</text>
<text transform="translate(757.8,687.2) scale(0.9,1)" font-size="15.6" fill="#b2b5be" stroke="#b2b5be" stroke-width="0.3" text-anchor="middle">May</text>
<text transform="translate(924.9,687.2) scale(0.9,1)" font-size="15.6" fill="#b2b5be" stroke="#b2b5be" stroke-width="0.3" text-anchor="middle">Jun</text>
<text transform="translate(1086.5,687.2) scale(0.9,1)" font-size="15.6" fill="#b2b5be" stroke="#b2b5be" stroke-width="0.3" text-anchor="middle">Jul</text>
<text transform="translate(1253.5,687.2) scale(0.9,1)" font-size="15.6" fill="#b2b5be" stroke="#b2b5be" stroke-width="0.3" text-anchor="middle">Aug</text>
<text transform="translate(1420.6,687.2) scale(0.9,1)" font-size="15.6" fill="#b2b5be" stroke="#b2b5be" stroke-width="0.3" text-anchor="middle">Sep</text>
<text transform="translate(1582.2,687.2) scale(0.9,1)" font-size="15.6" fill="#b2b5be" stroke="#b2b5be" stroke-width="0.3" text-anchor="middle">Oct</text>
<text x="13" y="25" font-size="15.8" fill="#d1d4dc" textLength="458" lengthAdjust="spacingAndGlyphs">writersmfd2i published on TradingView.com, Jul 27, 2023 15:40 UTC</text>
<text x="23.3" y="59" font-size="15.1" fill="#c1c4cd" textLength="231" lengthAdjust="spacingAndGlyphs">Dogecoin / US Dollar, 1D, BINANCE</text>
<text x="263.8" y="59" font-size="15.1" fill="#c1c4cd">O</text>
<text x="273.5" y="59" font-size="15.1" fill="#089981" textLength="43.6" lengthAdjust="spacingAndGlyphs">0.0781</text>
<text x="328.2" y="59" font-size="15.1" fill="#c1c4cd">H</text>
<text x="337.6" y="59" font-size="15.1" fill="#089981" textLength="43.4" lengthAdjust="spacingAndGlyphs">0.0801</text>
<text x="391.6" y="59" font-size="15.1" fill="#c1c4cd">L</text>
<text x="398.7" y="59" font-size="15.1" fill="#089981" textLength="44.5" lengthAdjust="spacingAndGlyphs">0.0765</text>
<text x="452.7" y="59" font-size="15.1" fill="#c1c4cd">C</text>
<text x="461.5" y="59" font-size="15.1" fill="#089981" textLength="44.7" lengthAdjust="spacingAndGlyphs">0.0789</text>
<text x="516.6" y="59" font-size="15.1" fill="#089981" textLength="113" lengthAdjust="spacingAndGlyphs">+0.0011 (+1.41%)</text>
<text x="23.3" y="80" font-size="15.1" fill="#c1c4cd" textLength="165.8" lengthAdjust="spacingAndGlyphs">SMA (9, close, 0, SMA, 5)</text>
<text x="199" y="80" font-size="15.1" fill="#2962ff" textLength="44.6" lengthAdjust="spacingAndGlyphs">0.0744</text>
<text x="23.6" y="504" font-size="15.1" fill="#c1c4cd" textLength="174.4" lengthAdjust="spacingAndGlyphs" stroke="#171b26" stroke-width="4" paint-order="stroke" stroke-linejoin="round">RSI (14, close, SMA, 14, 2)</text>
<text x="208" y="504" font-size="15.1" fill="#7e57c2" textLength="35" lengthAdjust="spacingAndGlyphs" stroke="#171b26" stroke-width="4" paint-order="stroke" stroke-linejoin="round">64.11</text>
<text x="254.5" y="504" font-size="15.1" fill="#ffeb3b" textLength="36.5" lengthAdjust="spacingAndGlyphs" stroke="#171b26" stroke-width="4" paint-order="stroke" stroke-linejoin="round" font-weight="bold">59.80</text>
<text x="301" y="504" font-size="15.1" fill="#c1c4cd" stroke="#171b26" stroke-width="4" paint-order="stroke" stroke-linejoin="round">ø</text>
<text x="320" y="504" font-size="15.1" fill="#c1c4cd" stroke="#171b26" stroke-width="4" paint-order="stroke" stroke-linejoin="round">ø</text>
<g fill="#d1d4dc">
<path d="M13,715 h10 v12 h-5.3 v-7 h-4.7 z"/>
<circle cx="27" cy="717.6" r="2.6"/>
<path d="M31.6,715 h6 l-5,12 h-6 z"/>
<text x="43" y="727" font-size="15.6" textLength="87" lengthAdjust="spacingAndGlyphs">TradingView</text>
</g>
</svg></body></html>
